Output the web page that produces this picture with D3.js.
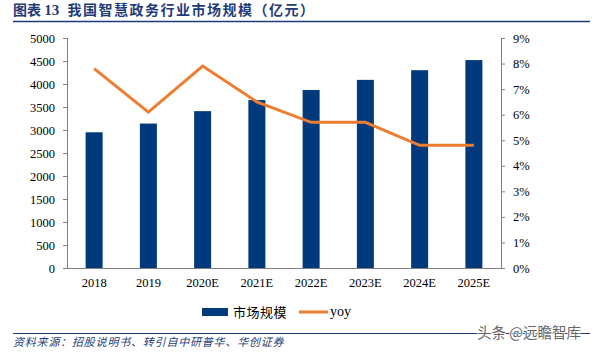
<!DOCTYPE html>
<html>
<head>
<meta charset="utf-8">
<script src="https://cdn.jsdelivr.net/npm/d3@7"></script>
<style>
  body { margin: 0; background: #fff; }
  svg { display: block; }
</style>
</head>
<body>
<script>
const years = ["2018", "2019", "2020E", "2021E", "2022E", "2023E", "2024E", "2025E"];
const marketSize = [2950, 3140, 3410, 3650, 3870, 4090, 4300, 4520];
const yoy = [7.8, 6.1, 7.9, 6.5, 5.7, 5.7, 4.8, 4.8];
const leftTicks = [0, 500, 1000, 1500, 2000, 2500, 3000, 3500, 4000, 4500, 5000];
const rightTicks = [0, 1, 2, 3, 4, 5, 6, 7, 8, 9];

const width = 599, height = 352;
const plotLeft = 67, plotRight = 501, plotTop = 38, plotBottom = 268;
const serif = "'Liberation Serif', 'Times New Roman', serif";
const cjk = "'Noto Sans CJK SC', sans-serif";
const navy = "#003a7d";
const orange = "#ed7d31";
const axisGrey = "#808080";

const svg = d3.select("body").append("svg")
    .attr("width", width)
    .attr("height", height);

// title
const title = svg.append("text")
   .attr("x", 13)
   .attr("y", 15)
   .style("font-weight", "bold")
   .style("font-size", "14px")
   .style("fill", "#1f3c78")
   .style("white-space", "pre");
title.append("tspan").style("font-family", cjk).text("图表 ");
title.append("tspan").style("font-family", serif).style("font-size", "15px").text("13 ");
title.append("tspan").style("font-family", cjk).style("letter-spacing", "1.5px").text(" 我国智慧政务行业市场规模（亿元）");

svg.append("line")
   .attr("x1", 13).attr("x2", 590)
   .attr("y1", 21.5).attr("y2", 21.5)
   .style("stroke", "#1f3c78")
   .style("stroke-width", 1.5);

const x = d3.scaleBand().domain(years).range([plotLeft, plotRight]);
const yL = d3.scaleLinear().domain([0, 5000]).range([plotBottom, plotTop]);
const yR = d3.scaleLinear().domain([0, 9]).range([plotBottom, plotTop]);

// bars
svg.selectAll("rect.bar")
   .data(years)
   .enter()
   .append("rect")
   .attr("class", "bar")
   .attr("x", (d) => x(d) + x.bandwidth() / 2 - 8.5)
   .attr("y", (d, i) => yL(marketSize[i]))
   .attr("width", 17)
   .attr("height", (d, i) => plotBottom - yL(marketSize[i]))
   .style("fill", navy);

// line
const line = d3.line()
    .x((d, i) => x(years[i]) + x.bandwidth() / 2)
    .y((d) => yR(d));

svg.append("path")
   .datum(yoy)
   .attr("d", line)
   .style("fill", "none")
   .style("stroke", orange)
   .style("stroke-width", 3)
   .style("stroke-linejoin", "miter");

// axes
const styleAxis = (g) => {
    g.selectAll("path, line").style("stroke", axisGrey);
    g.selectAll("text")
     .style("font-family", serif)
     .style("font-size", "12.5px")
     .style("fill", "#000");
};

svg.append("g")
   .attr("transform", `translate(${plotLeft},0)`)
   .call(d3.axisLeft(yL).tickValues(leftTicks).tickFormat(d3.format("d")).tickSizeOuter(0).tickSize(4).tickPadding(8))
   .call(styleAxis);

svg.append("g")
   .attr("transform", `translate(${plotRight},0)`)
   .call(d3.axisRight(yR).tickValues(rightTicks).tickFormat(d => d + "%").tickSizeOuter(0).tickSize(4).tickPadding(8))
   .call(styleAxis);

svg.append("g")
   .attr("transform", `translate(0,${plotBottom})`)
   .call(d3.axisBottom(x).tickSize(0).tickPadding(10))
   .call(styleAxis);

// legend
const legend = svg.append("g").attr("transform", "translate(202,312)");
legend.append("rect")
      .attr("x", 0).attr("y", -4)
      .attr("width", 26).attr("height", 8)
      .style("fill", navy);
legend.append("text")
      .attr("x", 31).attr("y", 5)
      .style("font-family", cjk)
      .style("font-size", "13px")
      .style("letter-spacing", "0.5px")
      .text("市场规模");
legend.append("line")
      .attr("x1", 97).attr("x2", 126)
      .attr("y1", 0).attr("y2", 0)
      .style("stroke", orange)
      .style("stroke-width", 3);
legend.append("text")
      .attr("x", 128).attr("y", 4)
      .style("font-family", serif)
      .style("font-size", "14px")
      .text("yoy");

// footer
svg.append("line")
   .attr("x1", 13).attr("x2", 590)
   .attr("y1", 333.5).attr("y2", 333.5)
   .style("stroke", "#1f3c78")
   .style("stroke-width", 1);

svg.append("text")
   .attr("x", 13)
   .attr("y", 346)
   .style("font-family", cjk)
   .style("font-style", "italic")
   .style("font-size", "11px")
   .style("letter-spacing", "0.8px")
   .style("fill", "#1f3c78")
   .text("资料来源：招股说明书、转引自中研普华、华创证券");

svg.append("text")
   .attr("x", 477)
   .attr("y", 338)
   .style("font-family", cjk)
   .style("font-size", "14.5px")
   .style("fill", "#666")
   .style("paint-order", "stroke")
   .style("stroke", "#fff")
   .style("stroke-width", 1.5)
   .text("头条 @远瞻智库");
</script>
</body>
</html>
